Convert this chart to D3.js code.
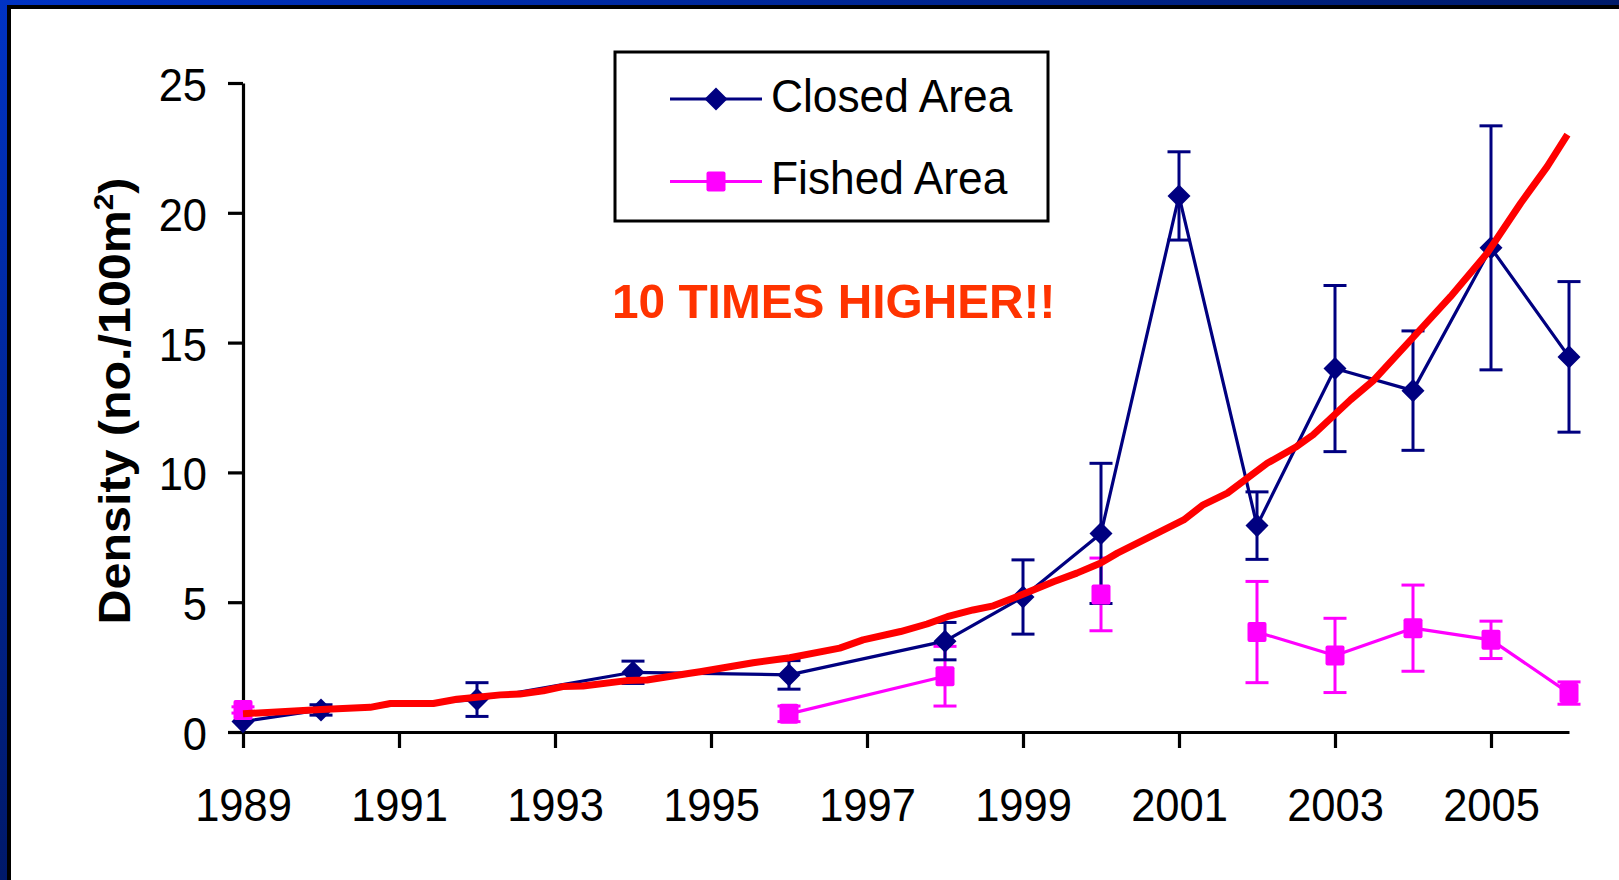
<!DOCTYPE html>
<html>
<head>
<meta charset="utf-8">
<script src="https://cdn.jsdelivr.net/npm/d3@7"></script>
<style>
  html, body { margin: 0; padding: 0; background: #ffffff; }
  svg { display: block; }
  text { font-family: "Liberation Sans", Arial, sans-serif; }
</style>
</head>
<body>
<script>
// Survey years shared by both series
const years = [1989, 1990, 1992, 1994, 1996, 1998, 1999, 2000, 2001, 2002, 2003, 2004, 2005, 2006];

// Closed area: mean density and error (± half-range)
const closedMean = [0.4, 0.85, 1.25, 2.3, 2.2, 3.5, 5.2, 7.65, 20.65, 7.95, 14.0, 13.15, 18.65, 14.45];
const closedErr  = [null, 0.2, 0.65, 0.43, 0.55, 0.72, 1.43, 2.7, 1.7, 1.3, 3.2, 2.3, 4.7, 2.9];

// Fished area: null where the area was not sampled (breaks the line)
const fishedMean = [0.85, null, null, null, 0.7, 2.15, null, 5.3, null, 3.85, 2.95, 4.0, 3.55, 1.5];
const fishedErr  = [0.12, null, null, null, 0.3, 1.15, null, 1.4, null, 1.95, 1.43, 1.66, 0.72, 0.43];

// Hand-drawn trend curve through the closed-area data
const trendYears  = [1989.0, 1990.0, 1990.63, 1990.89, 1991.44, 1991.74, 1992.3, 1992.55, 1992.85, 1993.1,
                     1993.36, 1993.92, 1994.18, 1994.73, 1994.86, 1995.54, 1996.01, 1996.65, 1996.95, 1997.43,
                     1997.77, 1998.03, 1998.36, 1998.62, 1998.92, 1999.39, 1999.69, 1999.99, 2000.21, 2000.76,
                     2001.06, 2001.31, 2001.62, 2002.13, 2002.51, 2002.72, 2003.2, 2003.5, 2004.05, 2004.48,
                     2004.95, 2005.38, 2005.72, 2005.98];
const trendValues = [0.7, 0.87, 0.95, 1.1, 1.1, 1.26, 1.43, 1.46, 1.59, 1.75,
                     1.77, 1.98, 2.0, 2.26, 2.32, 2.67, 2.86, 3.23, 3.55, 3.87,
                     4.16, 4.44, 4.7, 4.86, 5.21, 5.79, 6.12, 6.5, 6.89, 7.72,
                     8.17, 8.75, 9.2, 10.35, 11.0, 11.45, 12.8, 13.56, 15.36, 16.77,
                     18.44, 20.37, 21.78, 23.01];

const xTicks = [1989, 1991, 1993, 1995, 1997, 1999, 2001, 2003, 2005];
const yTicks = [0, 5, 10, 15, 20, 25];

const seriesNames = ["Closed Area", "Fished Area"];
const annotation = "10 TIMES HIGHER!!";

const W = 1619, H = 880;
const NAVY = "#000080", PINK = "#FF00FF", RED = "#FF0000";
const STRETCH = 1.07;

const svg = d3.select("body").append("svg").attr("width", W).attr("height", H);

// ---- slide frame ----
const defs = svg.append("defs");
const gH = defs.append("linearGradient").attr("id", "bandH").attr("x1", 0).attr("x2", 1).attr("y1", 0).attr("y2", 0);
gH.append("stop").attr("offset", 0).attr("stop-color", "#0033c4");
gH.append("stop").attr("offset", 1).attr("stop-color", "#001b6a");
const gV = defs.append("linearGradient").attr("id", "bandV").attr("x1", 0).attr("x2", 0).attr("y1", 0).attr("y2", 1);
gV.append("stop").attr("offset", 0).attr("stop-color", "#0033c4");
gV.append("stop").attr("offset", 1).attr("stop-color", "#00196a");

svg.append("rect").attr("x", 0).attr("y", 0).attr("width", W).attr("height", 5).attr("fill", "url(#bandH)");
svg.append("rect").attr("x", 0).attr("y", 0).attr("width", 7).attr("height", H).attr("fill", "url(#bandV)");
svg.append("rect").attr("x", 7).attr("y", 5).attr("width", W - 7).attr("height", 4).attr("fill", "#000");
svg.append("rect").attr("x", 7).attr("y", 5).attr("width", 4).attr("height", H - 5).attr("fill", "#000");

// ---- scales ----
const x = d3.scaleLinear().domain([1989, 2006]).range([243, 1569]);
const y = d3.scaleLinear().domain([0, 25]).range([732, 83]);

// ---- axes ----
const fontSize = 43.5;

const yAxis = svg.append("g")
  .attr("transform", `translate(${x(1989)},0)`)
  .call(d3.axisLeft(y).tickValues(yTicks).tickSize(15).tickSizeOuter(0).tickFormat(d3.format("d")));
yAxis.selectAll("text")
  .attr("x", null).attr("dy", null).attr("y", null)
  .attr("transform", `translate(-36,17.5) scale(1,${STRETCH})`)
  .attr("text-anchor", "end")
  .style("font-size", fontSize + "px").attr("fill", "#000");

const xAxis = svg.append("g")
  .attr("transform", `translate(0,${y(0)})`)
  .call(d3.axisBottom(x).tickValues(xTicks).tickSize(16).tickSizeOuter(0).tickFormat(d3.format("d")));
xAxis.selectAll("text")
  .attr("y", null).attr("dy", null)
  .attr("transform", `translate(0,89) scale(1,${STRETCH})`)
  .attr("text-anchor", "middle")
  .style("font-size", fontSize + "px").attr("fill", "#000");

[yAxis, xAxis].forEach(g => {
  g.selectAll("path.domain").attr("stroke", "#000").attr("stroke-width", 3.2);
  g.selectAll(".tick line").attr("stroke", "#000").attr("stroke-width", 3.2);
});

// y axis title with superscript
const yTitle = svg.append("text")
  .attr("transform", `translate(130,401) rotate(-90) scale(1.1,1)`)
  .attr("text-anchor", "middle")
  .style("font-size", "44px").style("font-weight", "bold").attr("fill", "#000");
yTitle.append("tspan").text("Density (no./100m");
yTitle.append("tspan").attr("dy", -17).style("font-size", "27px").text("2");
yTitle.append("tspan").attr("dy", 17).text(")");

// ---- series ----
const closed = years.map((yr, i) => ({ yr, v: closedMean[i], e: closedErr[i] }));
const fished = years.map((yr, i) => ({ yr, v: fishedMean[i], e: fishedErr[i] }));

const line = d3.line().defined(d => d.v != null).x(d => x(d.yr)).y(d => y(d.v));

const diamond = d3.symbol().type(d3.symbolSquare).size(265);

function errorBars(data, color) {
  const g = svg.append("g").attr("stroke", color).attr("stroke-width", 3).attr("fill", "none");
  data.filter(d => d.v != null && d.e != null).forEach(d => {
    const cx = x(d.yr), top = y(d.v + d.e), bot = y(d.v - d.e);
    g.append("line").attr("x1", cx).attr("x2", cx).attr("y1", top).attr("y2", bot);
    g.append("line").attr("x1", cx - 11.5).attr("x2", cx + 11.5).attr("y1", top).attr("y2", top);
    g.append("line").attr("x1", cx - 11.5).attr("x2", cx + 11.5).attr("y1", bot).attr("y2", bot);
  });
}

svg.append("path").datum(closed).attr("d", line)
  .attr("fill", "none").attr("stroke", NAVY).attr("stroke-width", 3.2).attr("stroke-linejoin", "round");
svg.append("path").datum(fished).attr("d", line)
  .attr("fill", "none").attr("stroke", PINK).attr("stroke-width", 3.2).attr("stroke-linejoin", "round");

errorBars(fished, PINK);
errorBars(closed, NAVY);

svg.append("g").selectAll("path").data(closed.filter(d => d.v != null)).join("path")
  .attr("d", diamond)
  .attr("transform", d => `translate(${x(d.yr)},${y(d.v)}) rotate(45)`)
  .attr("fill", NAVY);

svg.append("g").selectAll("rect").data(fished.filter(d => d.v != null)).join("rect")
  .attr("x", d => x(d.yr) - 9.5).attr("y", d => y(d.v) - 10)
  .attr("width", 19).attr("height", 20).attr("rx", 2)
  .attr("fill", PINK);

// ---- trend curve ----
const trend = trendYears.map((yr, i) => ({ yr, v: trendValues[i] }));
svg.append("path").datum(trend).attr("d", line)
  .attr("fill", "none").attr("stroke", RED).attr("stroke-width", 7)
  .attr("stroke-linejoin", "round");

// ---- annotation ----
svg.append("text")
  .attr("transform", `translate(612,318) scale(1,1.02)`)
  .style("font-size", "47.8px").style("font-weight", "bold")
  .attr("fill", "#FF3300")
  .text(annotation);

// ---- legend ----
const legendFont = 44.3;
const lg = svg.append("g");
lg.append("rect").attr("x", 615).attr("y", 52).attr("width", 433).attr("height", 169)
  .attr("fill", "#fff").attr("stroke", "#000").attr("stroke-width", 3);
const rows = [
  { name: seriesNames[0], color: NAVY, cy: 99, shape: "diamond" },
  { name: seriesNames[1], color: PINK, cy: 181.5, shape: "square" }
];
rows.forEach(r => {
  lg.append("line").attr("x1", 670).attr("x2", 762).attr("y1", r.cy).attr("y2", r.cy)
    .attr("stroke", r.color).attr("stroke-width", 3.2);
  if (r.shape === "diamond") {
    lg.append("path").attr("d", diamond).attr("transform", `translate(716,${r.cy}) rotate(45)`).attr("fill", r.color);
  } else {
    lg.append("rect").attr("x", 716 - 9.5).attr("y", r.cy - 10).attr("width", 19).attr("height", 20)
      .attr("rx", 2).attr("fill", r.color);
  }
  lg.append("text")
    .attr("transform", `translate(771,${r.cy + 12.5}) scale(1,1.05)`)
    .style("font-size", legendFont + "px").attr("fill", "#000")
    .text(r.name);
});
</script>
</body>
</html>
